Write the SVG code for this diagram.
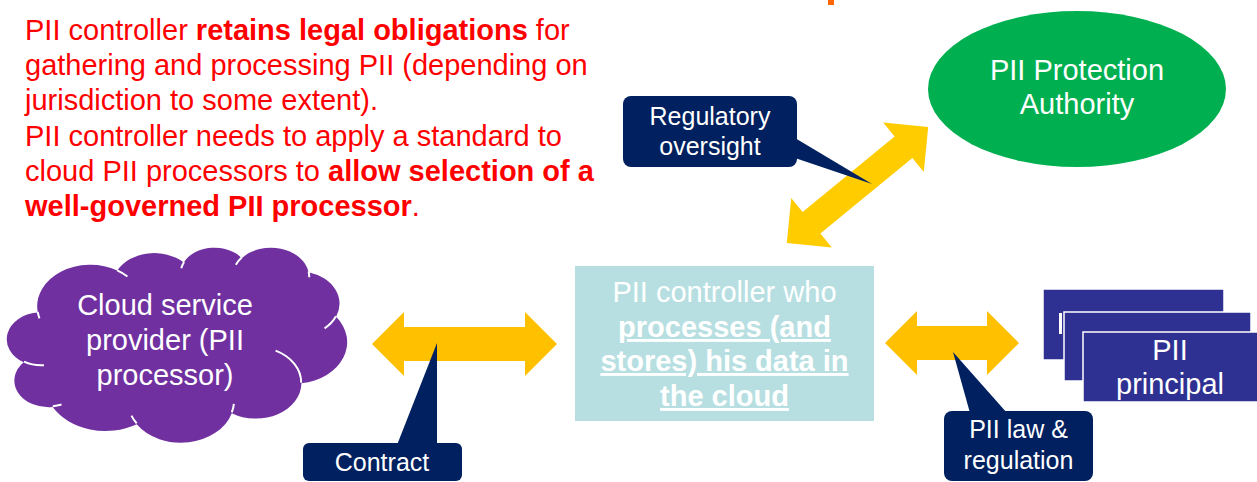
<svg xmlns="http://www.w3.org/2000/svg" width="1257" height="482" viewBox="0 0 1257 482">
<style>
text{font-family:"Liberation Sans",Arial,sans-serif;}
.red{fill:#FF0000;font-size:29px;}
.w29{fill:#FFFFFF;font-size:29px;text-anchor:middle;}
.w25{fill:#FFFFFF;font-size:25px;text-anchor:middle;}
.b{font-weight:bold;}
.u{text-decoration:underline;}
.callout{fill:#002060;}
.harrow{fill:#FFC000;}
.card{fill:#2E3192;stroke:#FFFFFF;stroke-width:1.5;}
</style>
<rect width="1257" height="482" fill="#FFFFFF"/>
<rect x="828" y="0" width="6" height="5" fill="#FF6600"/>
<g id="note">
<text class="red" x="25" y="40">PII controller <tspan class="b">retains legal obligations</tspan> for</text>
<text class="red" x="25" y="75">gathering and processing PII (depending on</text>
<text class="red" x="25" y="110">jurisdiction to some extent).</text>
<text class="red" x="25" y="146">PII controller needs to apply a standard to</text>
<text class="red" x="25" y="181">cloud PII processors to <tspan class="b">allow selection of a</tspan></text>
<text class="red" x="25" y="216"><tspan class="b">well-governed PII processor</tspan>.</text>
</g>
<g id="connectors">
<path class="harrow" d="M372,344 L404,312 L404,327 L525,327 L525,312 L557,344 L525,376 L525,361 L404,361 L404,376 Z"/>
<path class="harrow" d="M885,343 L917,311 L917,326 L987,326 L987,311 L1019,343 L987,375 L987,360 L917,360 L917,375 Z"/>
<path fill="#FFCC00" transform="translate(857.5,185) rotate(-39.4)" d="M-91.5,0 L-59.5,-32 L-59.5,-14 L59.5,-14 L59.5,-32 L91.5,0 L59.5,32 L59.5,14 L-59.5,14 L-59.5,32 Z"/>
</g>
<g id="cloud-provider">
<g transform="translate(7,247) scale(0.0078704,0.0045139)">
<path fill="#7030A0" d="M3900,14370 A6753,9190 0 0 1 14005,5202 A5333,7267 0 0 1 22457,3431 A4365,5945 0 0 1 29835,2481 A4857,6595 0 0 1 38320,5575 A5333,7273 0 0 1 41821,15458 A6775,9220 0 0 1 37407,30201 A5785,7867 0 0 1 28558,36811 A6752,9215 0 0 1 16483,39261 A7720,10543 0 0 1 5807,35473 A4360,5918 0 0 1 2116,25551 A4345,5945 0 0 1 3867,14508 Z"/>
<path fill="none" stroke="#FFFFFF" stroke-width="2" vector-effect="non-scaling-stroke" d="M4693,26177 A4345,5945 0 0 1 2160,25380 M6928,34899 A4360,5918 0 0 1 5819,35281 M16478,39090 A6752,9215 0 0 1 15810,37350 M28827,34751 A6752,9215 0 0 1 28560,36661 M34129,22954 A5785,7867 0 0 1 37381,30090 M41798,15354 A5333,7273 0 0 1 40350,18031 M38324,5426 A4857,6595 0 0 1 38400,6690 M29078,3952 A4857,6595 0 0 1 29819,2341 M22141,4720 A4365,5945 0 0 1 22500,3330 M14000,5192 A6753,9190 0 0 1 15301,6542 M4127,15789 A6753,9190 0 0 1 3901,14371"/>
</g>
<text class="w29" x="165" y="315">Cloud service</text>
<text class="w29" x="165" y="350">provider (PII</text>
<text class="w29" x="165" y="385">processor)</text>
</g>
<g id="pii-controller">
<rect x="575" y="266" width="299" height="155" fill="#B7DFE2"/>
<text class="w29" x="724.5" y="302">PII controller who</text>
<text class="w29 b u" x="724.5" y="337">processes (and</text>
<text class="w29 b u" x="724.5" y="371">stores) his data in</text>
<text class="w29 b u" x="724.5" y="406">the cloud</text>
</g>
<g id="protection-authority">
<ellipse cx="1077" cy="89" rx="149" ry="78" fill="#00B050"/>
<text class="w29" x="1077" y="80">PII Protection</text>
<text class="w29" x="1077" y="114">Authority</text>
</g>
<g id="pii-principal">
<rect class="card" x="1043" y="289" width="181" height="71"/>
<rect x="1059" y="313" width="3" height="21" fill="#FFFFFF"/>
<rect class="card" x="1064" y="312" width="187" height="69"/>
<rect class="card" x="1083" y="332" width="176" height="70"/>
<text class="w29" x="1170" y="360">PII</text>
<text class="w29" x="1170" y="394">principal</text>
</g>
<g id="callout-regulatory">
<path class="callout" d="M795,138 L872,184 L795,158 Z"/>
<rect class="callout" x="623" y="96" width="174" height="71" rx="8"/>
<text class="w25" x="710" y="125">Regulatory</text>
<text class="w25" x="710" y="155">oversight</text>
</g>
<g id="callout-contract">
<path class="callout" d="M397,445 L437,343 L437,445 Z"/>
<rect class="callout" x="303" y="443" width="159" height="38" rx="6"/>
<text class="w25" x="382" y="471">Contract</text>
</g>
<g id="callout-law">
<path class="callout" d="M970,413 L953,352 L1007,413 Z"/>
<rect class="callout" x="944" y="411" width="149" height="70" rx="8"/>
<text class="w25" x="1018.5" y="438">PII law &amp;</text>
<text class="w25" x="1018.5" y="469">regulation</text>
</g>
</svg>
